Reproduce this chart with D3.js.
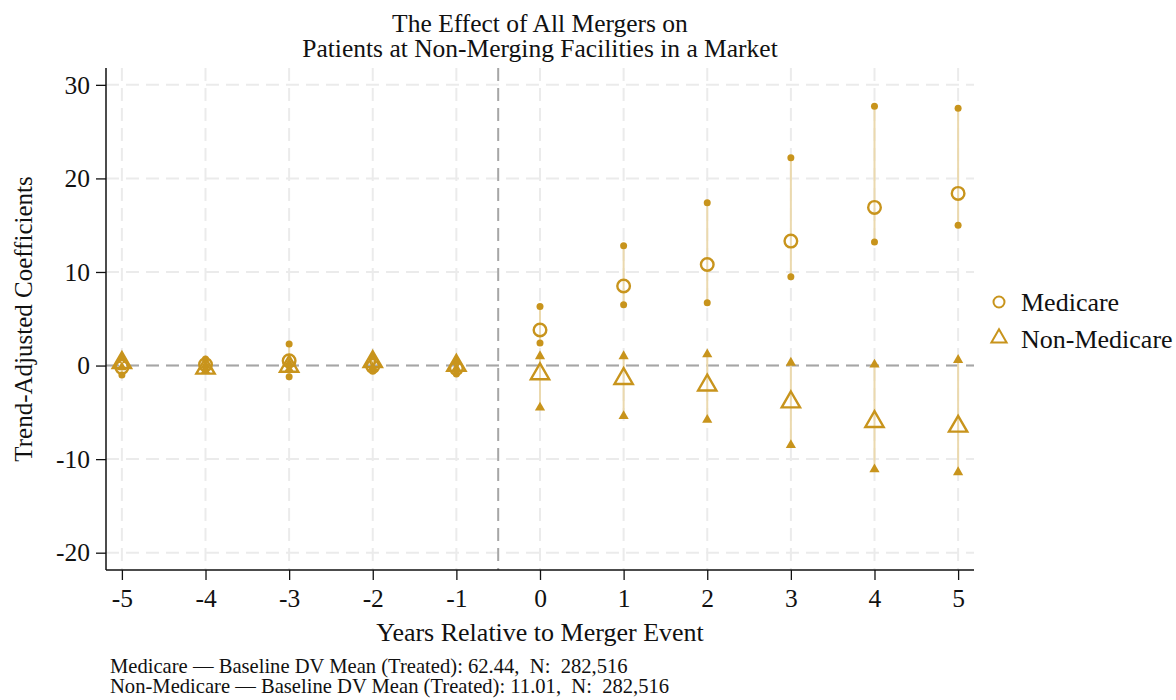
<!DOCTYPE html>
<html>
<head>
<meta charset="utf-8">
<script src="https://cdn.jsdelivr.net/npm/d3@7"></script>
<style>
  body { margin: 0; background: #fff; }
  text { font-family: "Liberation Serif", "Times New Roman", serif; fill: #111; }
</style>
</head>
<body>
<svg width="1176" height="700"></svg>
<script>
// event years
var years = [-5, -4, -3, -2, -1, 0, 1, 2, 3, 4, 5];

// Medicare: point estimate and confidence bounds
var medEst = [-0.2, 0.1, 0.5, -0.1, -0.3, 3.8, 8.5, 10.8, 13.3, 16.9, 18.4];
var medLo  = [-1.0, -0.5, -1.2, -0.6, -0.9, 2.4, 6.5, 6.7, 9.5, 13.2, 15.0];
var medHi  = [0.6, 0.7, 2.3, 0.4, 0.3, 6.3, 12.8, 17.4, 22.2, 27.7, 27.5];

// Non-Medicare
var nonEst = [0.3, -0.3, -0.1, 0.4, 0.0, -0.9, -1.4, -2.1, -3.9, -6.0, -6.5];
var nonLo  = [-0.2, -0.6, -0.4, -0.2, -0.3, -4.5, -5.4, -5.8, -8.5, -11.1, -11.4];
var nonHi  = [0.8, 0.0, 0.2, 0.9, 0.4, 1.0, 1.0, 1.2, 0.3, 0.1, 0.6];

var yTicks = [-20, -10, 0, 10, 20, 30];
var notes = [
    "Medicare \u2014 Baseline DV Mean (Treated): 62.44,  N:  282,516",
    "Non-Medicare \u2014 Baseline DV Mean (Treated): 11.01,  N:  282,516"
];

var gold = "#C8941C",
    ciColor = "#EBD9AE";

var svg = d3.select("svg"),
    margin = { top: 68, right: 202, bottom: 130, left: 106 },
    width = 1176 - margin.left - margin.right,
    height = 700 - margin.top - margin.bottom,
    g = svg.append("g").attr("transform", "translate(" + margin.left + "," + margin.top + ")");

var x = d3.scaleLinear().domain([-5.19, 5.19]).range([0, width]);
var y = d3.scaleLinear().domain([-21.85, 31.8]).range([height, 0]);

// gridlines
g.append("g").selectAll("line").data(yTicks).enter().append("line")
    .attr("x1", 0).attr("x2", width)
    .attr("y1", function (d) { return y(d); }).attr("y2", function (d) { return y(d); })
    .attr("stroke", "#ebebeb").attr("stroke-width", 2).attr("stroke-dasharray", "13,7");

g.append("g").selectAll("line").data(years).enter().append("line")
    .attr("x1", function (d) { return x(d); }).attr("x2", function (d) { return x(d); })
    .attr("y1", 0).attr("y2", height)
    .attr("stroke", "#ebebeb").attr("stroke-width", 2).attr("stroke-dasharray", "13,7");

// reference lines
g.append("line")
    .attr("x1", 0).attr("x2", width).attr("y1", y(0)).attr("y2", y(0))
    .attr("stroke", "#a6a6a6").attr("stroke-width", 2).attr("stroke-dasharray", "13,7");
g.append("line")
    .attr("x1", x(-0.5)).attr("x2", x(-0.5)).attr("y1", 0).attr("y2", height)
    .attr("stroke", "#a6a6a6").attr("stroke-width", 2).attr("stroke-dasharray", "13,7");

// axes (plain hyphen for negatives, like the original)
var fmt = function (d) { return String(d); };
var yAxis = g.append("g")
    .call(d3.axisLeft(y).tickValues(yTicks).tickSize(10).tickPadding(6).tickFormat(fmt));
var xAxis = g.append("g")
    .attr("transform", "translate(0," + height + ")")
    .call(d3.axisBottom(x).tickValues(years).tickSize(10).tickPadding(9).tickFormat(fmt));
[xAxis, yAxis].forEach(function (a) {
    a.select(".domain").attr("stroke", "#111").attr("stroke-width", 1.5);
    a.selectAll(".tick line").attr("stroke", "#111").attr("stroke-width", 1.3);
    a.selectAll("text").attr("font-size", 25.5).attr("fill", "#111")
        .style("font-family", "'Liberation Serif', serif");
});
xAxis.select(".domain").attr("d", "M0,0H" + width);
yAxis.select(".domain").attr("d", "M0," + height + "V0");

var triangle = d3.symbol().type(d3.symbolTriangle);

function drawSeries(est, lo, hi, kind) {
    var s = g.append("g");
    // CI lines
    s.selectAll("line.ci").data(years).enter().append("line")
        .attr("x1", function (d) { return x(d); }).attr("x2", function (d) { return x(d); })
        .attr("y1", function (d, i) { return y(lo[i]); }).attr("y2", function (d, i) { return y(hi[i]); })
        .attr("stroke", ciColor).attr("stroke-width", 2);
    // CI endpoints
    var ends = [];
    years.forEach(function (d, i) { ends.push([d, lo[i]]); ends.push([d, hi[i]]); });
    if (kind === "circle") {
        s.selectAll("circle.end").data(ends).enter().append("circle")
            .attr("cx", function (d) { return x(d[0]); }).attr("cy", function (d) { return y(d[1]); })
            .attr("r", 3.5).attr("fill", gold);
        s.selectAll("circle.pt").data(years).enter().append("circle")
            .attr("cx", function (d) { return x(d); }).attr("cy", function (d, i) { return y(est[i]); })
            .attr("r", 6.3).attr("fill", "none").attr("stroke", gold).attr("stroke-width", 2.4);
    } else {
        s.selectAll("path.end").data(ends).enter().append("path")
            .attr("d", triangle.size(45)())
            .attr("transform", function (d) { return "translate(" + x(d[0]) + "," + y(d[1]) + ")"; })
            .attr("fill", gold);
        s.selectAll("path.pt").data(years).enter().append("path")
            .attr("d", triangle.size(145)())
            .attr("transform", function (d, i) { return "translate(" + x(d) + "," + y(est[i]) + ")"; })
            .attr("fill", "none").attr("stroke", gold).attr("stroke-width", 2.4);
    }
}

drawSeries(medEst, medLo, medHi, "circle");
drawSeries(nonEst, nonLo, nonHi, "triangle");

// title
var title = svg.append("text").attr("text-anchor", "middle").attr("font-size", 25.5);
title.append("tspan").attr("x", 540).attr("y", 32).text("The Effect of All Mergers on");
title.append("tspan").attr("x", 540).attr("y", 57).text("Patients at Non-Merging Facilities in a Market");

// axis titles
svg.append("text")
    .attr("text-anchor", "middle").attr("font-size", 25)
    .attr("transform", "translate(32," + (margin.top + height / 2) + ") rotate(-90)")
    .text("Trend-Adjusted Coefficients");
svg.append("text")
    .attr("x", margin.left + width / 2).attr("y", 641)
    .attr("text-anchor", "middle").attr("font-size", 26)
    .text("Years Relative to Merger Event");

// legend
var legend = svg.append("g").attr("transform", "translate(999,0)");
legend.append("circle").attr("cx", 0).attr("cy", 302).attr("r", 5.5)
    .attr("fill", "none").attr("stroke", gold).attr("stroke-width", 2);
legend.append("text").attr("x", 22).attr("y", 311).attr("font-size", 26).text("Medicare");
legend.append("path").attr("d", triangle.size(100)())
    .attr("transform", "translate(0,338)")
    .attr("fill", "none").attr("stroke", gold).attr("stroke-width", 2);
legend.append("text").attr("x", 22).attr("y", 348).attr("font-size", 26).text("Non-Medicare");

// notes
svg.append("g").selectAll("text").data(notes).enter().append("text")
    .attr("x", 110).attr("y", function (d, i) { return 673 + i * 20; })
    .attr("font-size", 20.6)
    .style("white-space", "pre")
    .text(function (d) { return d; });
</script>
</body>
</html>
